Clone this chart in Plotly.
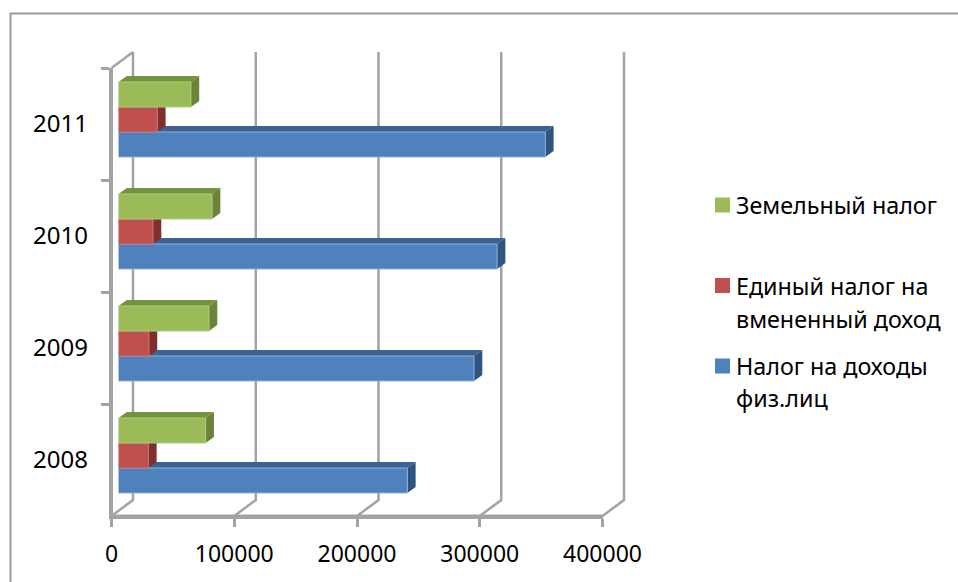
import plotly.graph_objects as go

years = ["2008", "2009", "2010", "2011"]
x_ticks = [0, 100000, 200000, 300000, 400000]
names = ["Налог на доходы", "Единый налог", "Земельный налог"]
legend_lines = [
    ("Земельный налог", 205),
    ("Единый налог на", 285.5),
    ("вмененный доход", 318.5),
    ("Налог на доходы", 366),
    ("физ.лиц", 397.5),
]
income_tax = [235300, 289600, 308400, 347700]
imputed_tax = [24300, 24800, 28100, 31600]
land_tax = [71000, 73700, 76200, 59000]
series = [income_tax, imputed_tax, land_tax]

front = ["#4F81BD", "#C0504D", "#9BBB59"]
edge = ["#8FB0DA", "#CB7371", "#AFCB78"]
top = ["#3E6391", "#943C3A", "#77933C"]
side = ["#2F5480", "#7F2F2D", "#6A8439"]
key_centres = [366, 285.5, 205]
GRID = "#A3A3A3"
FONT = "Noto Sans"
W, H = 958, 582
PX = 491 / 400000  # px per unit
DX = 8.3 / PX
DY = 6 / 112
BW = 25 / 112


def dom_x(a, b):
    return [a / W, b / W]


def dom_y(bottom, topy):
    return [1 - bottom / H, 1 - topy / H]


fig = go.Figure()

# back wall and floor guides on a full-page axis pair using the front plane's scale
WALL_DX = 21.5 / PX
WALL_DY = 16 / 112
gx, gy = [], []
for v in x_ticks:
    gx += [v, v + WALL_DX, v + WALL_DX, None]
    gy += [-0.5, -0.5 + WALL_DY, 3.5 + WALL_DY, None]
gx += [0, WALL_DX, None]
gy += [3.5, 3.5 + WALL_DY, None]
fig.add_trace(go.Scatter(x=gx, y=gy, mode="lines", line=dict(color=GRID, width=2.5),
                         xaxis="x", yaxis="y", showlegend=False, hoverinfo="skip"))
# front axis lines
fig.add_trace(go.Scatter(x=[0, 0, x_ticks[-1]], y=[3.5, -0.5, -0.5], mode="lines",
                         line=dict(color=GRID, width=3),
                         xaxis="x", yaxis="y", showlegend=False, hoverinfo="skip"))

# depth faces, painted under the front faces
for s, vals in enumerate(series):
    tx, ty, sx, sy = [], [], [], []
    for i, v in enumerate(vals):
        hi = i + (s - 1) * BW + BW / 2
        lo = hi - BW
        tx += [0, v, v + DX, DX, 0, None]
        ty += [hi, hi, hi + DY, hi + DY, hi, None]
        sx += [v, v + DX, v + DX, v, v, None]
        sy += [hi, hi + DY, lo + DY, lo, hi, None]
    for px_, py_, c in ((tx, ty, top[s]), (sx, sy, side[s])):
        fig.add_trace(go.Scatter(x=px_, y=py_, mode="lines", fill="toself", fillcolor=c,
                                 line=dict(width=0, color=c), xaxis="x2", yaxis="y2",
                                 showlegend=False, hoverinfo="skip", cliponaxis=False))

# front faces
for s, vals in enumerate(series):
    fig.add_trace(go.Bar(x=vals, y=list(range(len(years))), orientation="h", name=names[s],
                         marker=dict(color=front[s], line=dict(color=edge[s], width=1)),
                         xaxis="x3", yaxis="y3", showlegend=False))

# axes carrier
fig.add_trace(go.Scatter(x=[None] * 4, y=years, mode="lines", xaxis="x4", yaxis="y4",
                         showlegend=False, hoverinfo="skip"))

plain = dict(showgrid=False, showticklabels=False, zeroline=False, showline=False, ticks="")

shapes = [
    dict(type="line", xref="paper", yref="paper", x0=10 / W, x1=1, y0=1 - 13.5 / H, y1=1 - 13.5 / H,
         line=dict(color="#9A9A9A", width=2)),
    dict(type="line", xref="paper", yref="paper", x0=10.5 / W, x1=10.5 / W, y0=1 - 13 / H, y1=0,
         line=dict(color="#9A9A9A", width=2)),
]
for c, yc in zip(front, key_centres):
    shapes.append(dict(type="rect", xref="paper", yref="paper", x0=715 / W, x1=730 / W,
                       y0=1 - (yc + 7.5) / H, y1=1 - (yc - 7.5) / H, fillcolor=c, line=dict(width=0)))

annotations = [
    dict(text=t, x=735 / W, y=1 - yc / H, xref="paper", yref="paper", xanchor="left", yanchor="middle",
         showarrow=False, borderpad=0, font=dict(family=FONT, size=23.3, color="black"))
    for t, yc in legend_lines
]

fig.update_layout(
    width=W, height=H, autosize=False,
    margin=dict(l=0, r=0, t=0, b=0, autoexpand=False),
    paper_bgcolor="white", plot_bgcolor="rgba(0,0,0,0)",
    font=dict(family=FONT, size=23, color="black"),
    barmode="group", bargap=1 - 75 / 112, bargroupgap=0,
    showlegend=False,
    xaxis=dict(domain=[0, 1], range=[-111.5 / PX, (W - 111.5) / PX], **plain),
    yaxis=dict(domain=[0, 1], range=[-0.5 + (516 - H) / 112, -0.5 + 516 / 112], **plain),
    xaxis2=dict(domain=dom_x(118.5, 609.5), range=[0, 400000], anchor="y2", **plain),
    yaxis2=dict(domain=dom_y(511.5, 63.5), range=[-0.5, 3.5], anchor="x2", **plain),
    xaxis3=dict(domain=dom_x(118.5, 609.5), range=[0, 400000], anchor="y3", **plain),
    yaxis3=dict(domain=dom_y(511.5, 63.5), range=[-0.5, 3.5], anchor="x3", **plain),
    xaxis4=dict(domain=dom_x(111.5, 602.5), range=[0, 400000], anchor="y4", tickvals=x_ticks,
                ticktext=[str(v) for v in x_ticks], showgrid=False, zeroline=False, showline=True,
                linecolor=GRID, linewidth=2.5, ticks="outside", ticklen=8, tickwidth=2.5, tickcolor=GRID,
                ticklabelstandoff=8),
    yaxis4=dict(domain=dom_y(516, 68), type="category", categoryorder="array", categoryarray=years,
                range=[-0.5, 3.5], anchor="x4", tickson="boundaries", showgrid=False, zeroline=False,
                showline=True, linecolor=GRID, linewidth=2.5, ticks="outside", ticklen=8, tickwidth=2.5,
                tickcolor=GRID, ticklabelstandoff=16, tickfont=dict(size=24)),
    shapes=shapes,
    annotations=annotations,
)

fig.write_html("out.html", post_script="document.body.style.margin='0';",
               config=dict(displayModeBar=False))
